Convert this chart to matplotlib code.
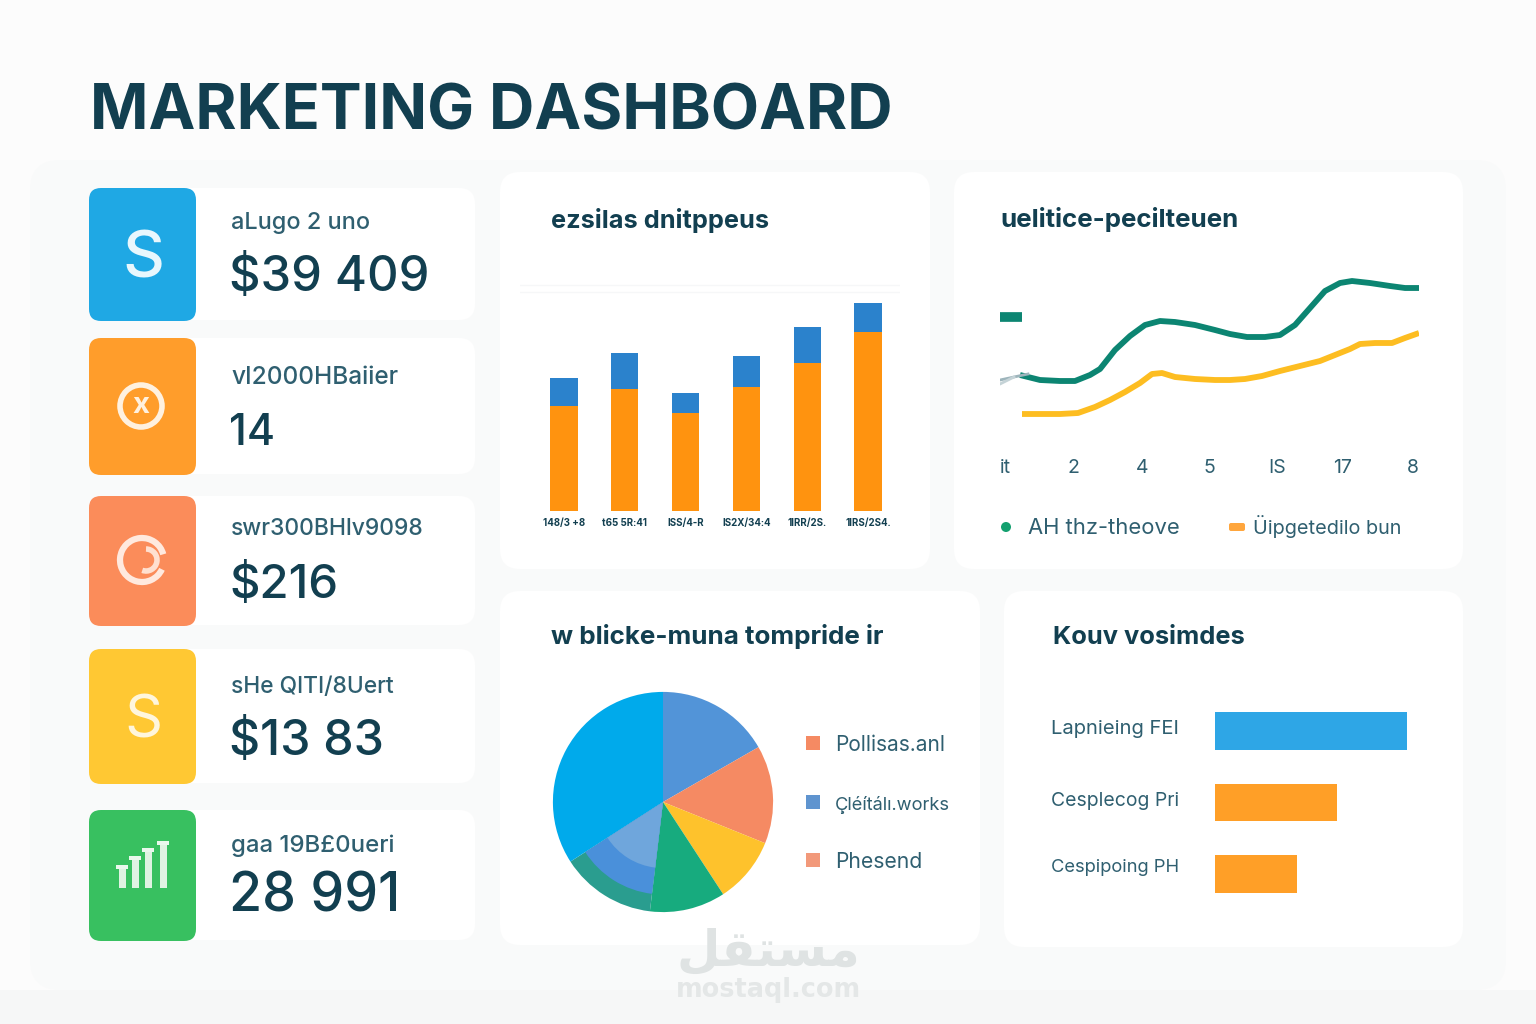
import matplotlib.pyplot as plt
from matplotlib.patches import FancyBboxPatch, Circle, Rectangle, Arc

plt.rcParams['font.family'] = ['Inter', 'DejaVu Sans']

W, H = 1536, 1024
DARK = '#123f50'
MID = '#2f5f70'

# kpi cards
card_labels = ['aLugo 2 uno', 'vI2000HBaiier', 'swr300BHlv9098', 'sHe QITI/8Uert', 'gaa 19B£0ueri']
card_values = ['$39 409', '14', '$216', '$13 83', '28 991']
card_colors = ['#1fa8e4', '#ff9d2b', '#fb8c5a', '#ffc833', '#38c060']

# stacked bars
bar_labels = ['148/3 +8', 't65 5R:41', 'ISS/4-R', 'IS2X/34:4', '1IRR/2S.', '1IRS/2S4.']
bar_orange = [105, 122, 98, 124, 148, 179]
bar_blue = [28, 36, 20, 31, 36, 29]

# lines
teal_x = [20, 40, 60, 75, 90, 100, 115, 130, 145, 160, 175, 195, 215, 230, 247, 265, 280, 295, 310, 325, 340, 352, 370, 390, 405, 419]
teal_y = [75, 70, 69, 69, 75, 81, 100, 114, 125, 129, 128, 125, 120, 116, 113, 113, 115, 125, 142, 159, 167, 169, 167, 164, 162, 162]
gold_x = [22, 40, 60, 78, 95, 110, 125, 140, 152, 162, 175, 195, 215, 230, 245, 262, 280, 300, 320, 335, 350, 360, 375, 392, 405, 419]
gold_y = [36, 36, 36, 37, 43, 50, 58, 67, 76, 77, 73, 71, 70, 70, 71, 74, 79, 84, 89, 95, 101, 106, 107, 107, 112, 117]
line_ticks = [5, 73, 142, 209, 277, 343, 413]
line_tick_labels = ['it', '2', '4', '5', 'IS', '17', '8']
line_legend = ['AH thz-theove', 'Üipgetedilo bun']

# pie
pie_values = [16.7, 14.4, 9.7, 11.1, 14.0, 34.1]
pie_colors = ['#5294d8', '#f58a63', '#fec22c', '#17ab7e', '#2a9d8f', '#00aaeb']
pie_legend = ['Pollisas.anl', 'Çléítálı.works', 'Phesend']
pie_legend_colors = ['#f58a63', '#5f94cf', '#f2997a']

# horizontal bars
hbar_labels = ['Lapnieing FEI', 'Cesplecog Pri', 'Cespipoing PH']
hbar_values = [192, 122, 82]
hbar_colors = ['#2ea6e6', '#ff9f27', '#ff9f27']

fig = plt.figure(figsize=(W / 100, H / 100), dpi=100, facecolor='#fcfcfc')
bg = fig.add_axes([0, 0, 1, 1])
bg.set_xlim(0, W)
bg.set_ylim(H, 0)
bg.axis('off')


def px_axes(x0, y0, x1, y1):
    a = fig.add_axes([x0 / W, 1 - y1 / H, (x1 - x0) / W, (y1 - y0) / H])
    a.patch.set_alpha(0)
    for s in a.spines.values():
        s.set_visible(False)
    return a


def box(x0, y0, x1, y1, color, r=16, z=1, **kw):
    p = FancyBboxPatch((x0 + r, y0 + r), x1 - x0 - 2 * r, y1 - y0 - 2 * r,
                       boxstyle='round,pad=%d,rounding_size=%d' % (r, r),
                       fc=color, ec='none', zorder=z, **kw)
    bg.add_patch(p)


def fit(x, y, s, width, color=DARK, weight='normal', size=14, family=None, ha='left', va='baseline'):
    # scale the font so the string spans the width seen in the picture, y is the baseline
    t = bg.text(x, y, s, color=color, fontweight=weight, fontsize=size, va=va, ha=ha, zorder=5)
    if family:
        t.set_fontfamily(family)
    w = t.get_window_extent(fig.canvas.get_renderer()).width
    t.set_fontsize(size * width / w)
    return t


bg.add_patch(Rectangle((0, 990), W, 34, fc='#f6f7f7', ec='none', zorder=0))
box(30, 160, 1506, 990, '#f9fafa', r=30, z=0)

fit(90, 130, 'MARKETING DASHBOARD', 802, weight='bold', size=47)

# left column
card_y = [(188, 320), (338, 474), (496, 625), (649, 783), (810, 940)]
label_w = [139, 167, 193, 163, 163]
label_base = [229, 384, 535, 693, 852]
value_w = [200, 46, 109, 155, 171]
value_base = [291, 445, 598, 755, 912]
for i in range(5):
    y0, y1 = card_y[i]
    box(89, y0, 475, y1, 'white', z=1)
    box(89, y0, 196, y1 + 1, card_colors[i], r=12, z=2)
    fit(231, label_base[i], card_labels[i], label_w[i], color=MID, weight='medium', size=13)
    fit(229, value_base[i], card_values[i], value_w[i], weight='medium', size=38)

# icons
fit(143, 277, 'S', 42, color='#e8f7fd', size=50, ha='center', weight='medium')
bg.add_patch(Circle((141, 406), 21, fc='none', ec='#fff1df', lw=4, zorder=5))
fit(141, 413, 'x', 17, color='#fff1df', weight='bold', size=20, ha='center')
bg.add_patch(Arc((142, 560), 44, 44, theta1=25, theta2=345, ec='#ffe9de', lw=4.5, zorder=5))
bg.add_patch(Arc((146, 560), 22, 22, theta1=270, theta2=110, ec='#ffe0d0', lw=4, zorder=5))
fit(143, 738, 'S', 38, color='#fff6dc', size=46, ha='center')
for x, top in zip([122, 135, 148, 163], [867, 858, 850, 843]):
    bg.add_patch(Rectangle((x - 3.5, top), 7, 888 - top, fc='#dff3e2', ec='none', zorder=5))
    bg.add_patch(Rectangle((x - 6, top - 2), 12, 4, fc='#e9f8ec', ec='none', zorder=5))

# chart panels
box(500, 172, 930, 569, 'white', r=20)
box(954, 172, 1463, 569, 'white', r=20)
box(500, 591, 980, 945, 'white', r=20)
box(1004, 591, 1463, 947, 'white', r=20)

# stacked bars
fit(551, 228, 'ezsilas dnitppeus', 218, weight='bold', size=16)
ax = px_axes(520, 270, 900, 511)
xs = range(len(bar_orange))
ax.bar(xs, bar_orange, width=0.45, color='#ff930f')
ax.bar(xs, bar_blue, width=0.45, bottom=bar_orange, color='#2b82cc')
ax.axhline(226, color='#f6f7f8', lw=1)
ax.axhline(219, color='#f6f7f8', lw=1)
ax.set_xlim(-0.724, 5.526)
ax.set_ylim(0, 241)
ax.set_yticks([])
ax.set_xticks(list(xs))
ax.set_xticklabels(bar_labels, fontsize=7, color=DARK, fontweight='bold')
ax.tick_params(length=0, pad=5)

# lines
fit(1000, 227, 'uelitice-pecilteuen', 239, weight='bold', size=16)
ax = px_axes(1000, 250, 1419, 450)
ax.plot(teal_x, teal_y, color='#0c8572', lw=4.2, solid_capstyle='butt')
ax.plot(gold_x, gold_y, color='#fdbd21', lw=4.2, solid_capstyle='butt')
ax.plot([0, 22], [133, 133], color='#0c8572', lw=7, solid_capstyle='butt')
ax.plot([0, 28], [70, 76], color='#9db4bb', lw=2)
ax.plot([0, 14], [66, 73], color='#c5d3d7', lw=2)
ax.set_xlim(0, 419)
ax.set_ylim(0, 200)
ax.set_yticks([])
ax.set_xticks([])
for tx, lab in zip(line_ticks, line_tick_labels):
    bg.text(1000 + tx, 473, lab, fontsize=14, color=MID, ha='center', va='baseline', zorder=5)
bg.add_patch(Circle((1006, 527), 5, fc='#13a06f', ec='none', zorder=5))
bg.add_patch(FancyBboxPatch((1231, 525), 12, 4, boxstyle='round,pad=2', fc='#ffa63d', ec='none', zorder=5))
fit(1028, 534, line_legend[0], 152, color=MID, size=14)
fit(1253, 534, line_legend[1], 149, color=MID, size=14)

# pie
fit(551, 644, 'w blicke-muna tompride ir', 333, weight='bold', size=16)
ax = px_axes(543, 682, 783, 922)
ax.pie(pie_values, colors=pie_colors, startangle=90, counterclock=False, radius=1)
blue_only = ['none', 'none', 'none', 'none', '#4a90da', 'none']
light_only = ['none', 'none', 'none', 'none', '#6fa6dc', 'none']
ax.pie(pie_values, colors=blue_only, startangle=90, counterclock=False, radius=0.84)
ax.pie(pie_values, colors=light_only, startangle=90, counterclock=False, radius=0.6)
ax.set_xlim(-1.09, 1.09)
ax.set_ylim(-1.09, 1.09)
leg_y = [743, 802, 860]
leg_w = [110, 116, 87]
for i in range(3):
    bg.add_patch(Rectangle((806, leg_y[i] - 7), 14, 14, fc=pie_legend_colors[i], ec='none', zorder=5))
    fit(835, leg_y[i] + 8, pie_legend[i], leg_w[i], color=MID, size=14)

# horizontal bars
fit(1053, 644, 'Kouv vosimdes', 192, weight='bold', size=16)
ax = px_axes(1215, 695, 1440, 910)
ax.barh([0, 1, 2], hbar_values, height=0.53, color=hbar_colors)
ax.set_xlim(0, 225)
ax.set_ylim(2.503, -0.503)
ax.set_xticks([])
ax.set_yticks([])
hbar_w = [128, 128, 129]
for i, y in enumerate([734, 806, 872]):
    fit(1051, y, hbar_labels[i], hbar_w[i], color=MID, size=13)

# watermark
fit(768, 966, '\ufede\ufed8\ufe98\ufeb4\ufee3', 184, color='#dfe3e3', weight='bold', size=38, ha='center',
    family='DejaVu Sans').set_zorder(6)
fit(768, 997, 'mostaql.com', 185, color='#e4e7e7', weight='bold', size=20, ha='center', family='DejaVu Sans').set_zorder(6)

fig.savefig('out.png', dpi=100)
